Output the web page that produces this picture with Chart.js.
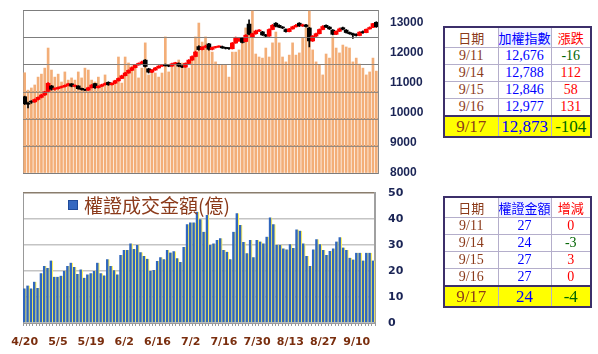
<!DOCTYPE html>
<html>
<head>
<meta charset="utf-8">
<script src="https://cdn.jsdelivr.net/npm/chart.js@4.4.1/dist/chart.umd.min.js"></script>
<style>
  body { margin:0; width:598px; height:354px; background:#fff; position:relative; overflow:hidden; }
  canvas { position:absolute; left:0; }
  #topChart { top:0; }
  #botChart { top:180px; }
  .legend { position:absolute; left:68px; top:191px; font:19px "Noto Sans CJK TC"; color:#8B3A1A; display:flex; align-items:center; white-space:nowrap; }
  .legend i { display:inline-block; width:8px; height:8px; background:#3568C0; border:1px solid #1F4A99; margin-right:6px; }
  table { position:absolute; left:443px; border-collapse:collapse; border:2px solid #3C2F6A; table-layout:fixed; width:147px; }
  td { border:1px solid #B4AECB; text-align:center; padding:0; font:14px "Liberation Serif", serif; line-height:1; }
  td.h { font:13px "Noto Sans CJK TC"; }
  .date { color:#8B3A1A; }
  .val { color:#0000FF; }
  .up { color:#FF0000; }
  .dn { color:#006400; }
  .hv { background:#EEF0FF; }
  tr.last td { background:#FFFF00; font-size:17px; border-top:2px solid #3C2F6A; }
</style>
</head>
<body>
<canvas id="topChart" width="440" height="185"></canvas>
<canvas id="botChart" width="440" height="174"></canvas>
<div class="legend"><i></i>權證成交金額(億)</div>

<table id="idxTable" style="top:26px">
  <colgroup><col style="width:54px"><col style="width:53px"><col style="width:40px"></colgroup>
  <tr style="height:17px"><td class="h date">日期</td><td class="h val hv">加權指數</td><td class="h up">漲跌</td></tr>
  <tr style="height:17px"><td class="date">9/11</td><td class="val">12,676</td><td class="dn">-16</td></tr>
  <tr style="height:17px"><td class="date">9/14</td><td class="val">12,788</td><td class="up">112</td></tr>
  <tr style="height:17px"><td class="date">9/15</td><td class="val">12,846</td><td class="up">58</td></tr>
  <tr style="height:17px"><td class="date">9/16</td><td class="val">12,977</td><td class="up">131</td></tr>
  <tr class="last" style="height:21px"><td class="date">9/17</td><td class="val">12,873</td><td class="dn">-104</td></tr>
</table>

<table id="wrtTable" style="top:196px">
  <colgroup><col style="width:54px"><col style="width:53px"><col style="width:40px"></colgroup>
  <tr style="height:18px"><td class="h date">日期</td><td class="h val hv">權證金額</td><td class="h up">增減</td></tr>
  <tr style="height:17px"><td class="date">9/11</td><td class="val">27</td><td class="up">0</td></tr>
  <tr style="height:17px"><td class="date">9/14</td><td class="val">24</td><td class="dn">-3</td></tr>
  <tr style="height:17px"><td class="date">9/15</td><td class="val">27</td><td class="up">3</td></tr>
  <tr style="height:17px"><td class="date">9/16</td><td class="val">27</td><td class="up">0</td></tr>
  <tr class="last" style="height:21px"><td class="date">9/17</td><td class="val">24</td><td class="dn">-4</td></tr>
</table>

<script>
// trading days 4/20 ~ 9/17
const dates = ['4/20','4/21','4/22','4/23','4/24','4/27','4/28','4/29','4/30','5/4',
  '5/5','5/6','5/7','5/8','5/11','5/12','5/13','5/14','5/15','5/18',
  '5/19','5/20','5/21','5/22','5/25','5/26','5/27','5/28','5/29','6/1',
  '6/2','6/3','6/4','6/5','6/8','6/9','6/10','6/11','6/12','6/15',
  '6/16','6/17','6/18','6/19','6/22','6/23','6/24','6/29','6/30','7/1',
  '7/2','7/3','7/6','7/7','7/8','7/9','7/10','7/13','7/14','7/15',
  '7/16','7/17','7/20','7/21','7/22','7/23','7/24','7/27','7/28','7/29',
  '7/30','7/31','8/3','8/4','8/5','8/6','8/7','8/10','8/11','8/12',
  '8/13','8/14','8/17','8/18','8/19','8/20','8/21','8/24','8/25','8/26',
  '8/27','8/28','8/31','9/1','9/2','9/3','9/4','9/7','9/8','9/9',
  '9/10','9/11','9/14','9/15','9/16','9/17'];
const shownDates = ['4/20','5/5','5/19','6/2','6/16','7/2','7/16','7/30','8/13','8/27','9/10'];

// index OHLC
const opens = [10540,10320,10390,10370,10450,10520,10600,10720,10900,10790,
  10810,10850,10880,10920,10970,10890,10900,10820,10780,10760,
  10840,10980,10840,10890,10940,11020,10940,10990,11070,11150,
  11240,11330,11420,11510,11600,11650,11760,11470,11360,11430,
  11500,11560,11610,11580,11560,11640,11650,11560,11530,11650,
  11760,11880,12210,12110,12190,12300,12120,12180,12200,12210,
  12170,12160,12140,12330,12400,12500,12380,12960,12530,12640,
  12730,12700,12600,12560,12780,12990,12920,12860,12780,12710,
  12800,12870,12990,12900,12930,12830,12400,12560,12640,12780,
  12920,12860,12760,12620,12720,12840,12760,12680,12640,12620,
  12580,12700,12676,12800,12850,13020];
const highs = [10560,10360,10410,10470,10540,10620,10720,11010,10920,10840,
  10870,10900,10940,10990,10980,10940,10910,10830,10790,10860,
  10950,10990,10910,10960,11000,11040,11010,11090,11170,11260,
  11350,11440,11530,11620,11670,11730,11780,11490,11450,11520,
  11580,11620,11630,11600,11660,11690,11670,11580,11670,11780,
  11900,12060,12240,12210,12260,12320,12200,12220,12240,12230,
  12190,12180,12350,12530,12500,12520,12610,13100,12660,12760,
  12780,12720,12620,12800,12950,13010,12940,12880,12800,12820,
  12890,12950,13010,12960,12950,12850,12580,12660,12800,12910,
  12940,12880,12780,12740,12830,12860,12780,12700,12660,12640,
  12710,12740,12800,12870,12990,13040];
const lows = [10280,10170,10320,10350,10430,10500,10580,10700,10760,10760,
  10790,10830,10860,10900,10870,10870,10790,10760,10740,10750,
  10830,10820,10830,10880,10930,10920,10930,10980,11060,11140,
  11230,11320,11410,11500,11590,11640,11530,11330,11340,11420,
  11490,11550,11560,11540,11550,11630,11540,11510,11520,11640,
  11750,11870,12090,12100,12170,12090,12100,12160,12180,12150,
  12130,12120,12130,12320,12380,12330,12370,12600,12510,12620,
  12710,12580,12540,12550,12770,12870,12840,12810,12690,12700,
  12790,12860,12880,12880,12860,12200,12380,12540,12630,12770,
  12840,12780,12600,12610,12710,12770,12660,12620,12480,12560,
  12570,12650,12670,12790,12840,12850];
const closes = [10310,10290,10360,10450,10520,10600,10700,10990,10790,10810,
  10850,10880,10920,10970,10890,10910,10810,10780,10760,10840,
  10930,10840,10890,10940,10980,10940,10990,11070,11150,11240,
  11330,11420,11510,11600,11650,11700,11550,11360,11430,11500,
  11560,11600,11580,11560,11640,11670,11560,11530,11650,11760,
  11880,12030,12110,12190,12230,12120,12180,12200,12210,12170,
  12150,12140,12330,12500,12470,12350,12590,12620,12640,12730,
  12750,12600,12560,12780,12920,12890,12860,12830,12710,12800,
  12870,12920,12900,12930,12880,12400,12560,12640,12780,12880,
  12860,12800,12620,12720,12800,12790,12680,12640,12600,12580,
  12692,12676,12788,12846,12977,12873];

// market turnover bars (hidden left axis)
const turnover = [3690,3050,3130,3240,3530,3640,3860,4600,3790,3530,
  3640,3350,3720,3420,3500,3420,3720,3500,3860,3790,
  3420,3350,3530,3200,3610,3240,3240,3420,4270,3310,
  4270,4050,3940,3900,3500,3860,4790,3610,3720,3680,
  3530,3680,5010,3720,3900,4050,4160,4050,3900,3860,
  4160,5010,5520,4820,5010,4710,4450,4090,3970,3970,
  3970,3530,4450,4450,4530,4970,5340,5450,6100,4380,
  4270,4230,4600,4270,4790,5190,4790,4270,4090,4340,
  4790,4340,4420,4970,5340,6100,4530,4090,3970,3610,
  4380,4230,5010,4600,4420,4710,4640,4600,4090,4230,
  4010,3860,3610,3720,4230,3750];

// 權證成交金額(億)
const warrant = [13.3,14.4,13.3,15.9,13.5,19.1,21.9,21.2,24.0,17.8,
  17.8,18.2,20.1,21.9,23.2,21.5,18.8,20.6,17.4,18.7,
  19.1,20.0,23.2,19.1,18.3,24.5,21.9,20.3,18.7,26.2,
  28.1,28.1,30.6,28.5,30.0,27.2,25.8,24.7,20.0,20.4,
  23.8,25.3,24.5,28.1,27.1,27.6,24.9,23.5,29.2,38.0,
  38.7,38.7,42.8,39.9,35.1,41.5,30.0,30.6,31.9,32.6,
  28.1,27.4,24.5,35.1,42.2,37.7,31.2,26.8,31.9,25.3,
  31.9,31.3,30.6,33.2,40.6,38.0,30.0,30.0,28.7,28.3,
  30.3,28.8,36.0,35.5,30.6,25.8,21.9,28.3,32.2,30.3,
  28.1,26.2,27.7,28.7,31.3,33.0,29.0,28.1,25.1,24.4,
  27,27,24,27,27,24];

const indexTicks = [8000, 9000, 10000, 11000, 12000, 13000];
const warrantTicks = [0, 10, 20, 30, 40, 50];

const candleColors = closes.map((c, i) => c >= opens[i] ? '#FF0000' : '#000000');
const gridGray = '#8c8c8c';

// no extra edge padding for tick labels
function noPad(s) {
    s.paddingTop = 0; s.paddingBottom = 0; s.paddingLeft = 0; s.paddingRight = 0;
}

// gridlines of the hidden turnover axis, drawn over the bars like the original
const overGrid = {
    id: 'overGrid',
    afterDatasetsDraw(chart) {
        const s = chart.scales.yv;
        const a = chart.chartArea;
        const ctx = chart.ctx;
        ctx.save();
        ctx.strokeStyle = 'rgba(120,120,120,0.75)';
        ctx.lineWidth = 1;
        s.ticks.forEach(t => {
            const y = Math.round(s.getPixelForValue(t.value)) + 0.5;
            ctx.beginPath();
            ctx.moveTo(a.left, y);
            ctx.lineTo(a.right, y);
            ctx.stroke();
        });
        ctx.restore();
    }
};

new Chart(document.getElementById('topChart'), {
    type: 'bar',
    data: {
        labels: dates,
        datasets: [
            {
                label: 'body',
                data: dates.map((d, i) => [opens[i], closes[i]]),
                yAxisID: 'y',
                backgroundColor: candleColors,
                barThickness: 4,
                minBarLength: 1,
                grouped: false,
                order: 0
            },
            {
                label: 'wick',
                data: dates.map((d, i) => [lows[i], highs[i]]),
                yAxisID: 'y',
                backgroundColor: candleColors,
                barThickness: 1,
                grouped: false,
                order: 1
            },
            {
                label: 'turnover',
                data: turnover,
                yAxisID: 'yv',
                backgroundColor: '#F3AE78',
                barThickness: 2,
                grouped: false,
                order: 2
            }
        ]
    },
    plugins: [overGrid],
    options: {
        responsive: false,
        animation: false,
        devicePixelRatio: 1,
        layout: { padding: { left: 23, top: 10, right: 0, bottom: 12 } },
        plugins: { legend: { display: false }, tooltip: { enabled: false } },
        scales: {
            x: {
                afterFit: noPad,
                ticks: { display: false },
                grid: { display: false, drawTicks: false },
                border: { color: gridGray }
            },
            yv: {
                position: 'left',
                min: 0,
                max: 6000,
                afterFit: noPad,
                ticks: { display: false, stepSize: 1000 },
                grid: { color: gridGray, drawTicks: false },
                border: { color: gridGray }
            },
            y: {
                position: 'right',
                min: 8000,
                max: 13430,
                afterBuildTicks: s => { s.ticks = indexTicks.map(v => ({ value: v })); },
                afterFit: s => { s.width = 62; noPad(s); },
                ticks: {
                    padding: 12,
                    color: '#1A2455',
                    font: { family: 'Liberation Sans', weight: 'bold', size: 12 },
                    callback: v => String(v)
                },
                grid: { display: false, drawTicks: false },
                border: { color: gridGray }
            }
        }
    }
});

new Chart(document.getElementById('botChart'), {
    type: 'bar',
    data: {
        labels: dates,
        datasets: [{
            label: '權證成交金額(億)',
            data: warrant,
            yAxisID: 'y',
            backgroundColor: '#2F66BE',
            borderColor: '#FFF25A',
            borderWidth: { top: 0, right: 1.2, bottom: 0, left: 0 },
            borderSkipped: false,
            categoryPercentage: 1,
            barPercentage: 1
        }]
    },
    options: {
        responsive: false,
        animation: false,
        devicePixelRatio: 1,
        layout: { padding: { left: 23, top: 13, right: 0, bottom: 0 } },
        plugins: { legend: { display: false }, tooltip: { enabled: false } },
        scales: {
            x: {
                afterFit: s => { s.height = 31; noPad(s); },
                grid: { drawOnChartArea: false, tickLength: 3, color: '#999' },
                border: { color: '#999' },
                ticks: {
                    autoSkip: false,
                    maxRotation: 0,
                    padding: 10,
                    color: '#7A2E0E',
                    font: { family: 'DejaVu Sans', weight: 'bold', size: 11 },
                    callback: function (v) {
                        const l = dates[v];
                        return shownDates.includes(l) ? l : '';
                    }
                }
            },
            yl: {
                position: 'left',
                min: 0,
                max: 50,
                afterFit: noPad,
                ticks: { display: false },
                grid: { display: false, drawTicks: false },
                border: { color: '#999' }
            },
            y: {
                position: 'right',
                min: 0,
                max: 50,
                afterBuildTicks: s => { s.ticks = warrantTicks.map(v => ({ value: v })); },
                afterFit: s => { s.width = 65; noPad(s); },
                ticks: {
                    padding: 13,
                    color: '#1A2455',
                    font: { family: 'DejaVu Sans', weight: 'bold', size: 11 }
                },
                grid: {
                    drawTicks: false,
                    lineWidth: 1.5,
                    color: c => c.tick && c.tick.value === 50 ? '#8a7d6d' : '#c4c4c4'
                },
                border: { color: '#a0a0a0', width: 2 }
            }
        }
    }
});
</script>
</body>
</html>
